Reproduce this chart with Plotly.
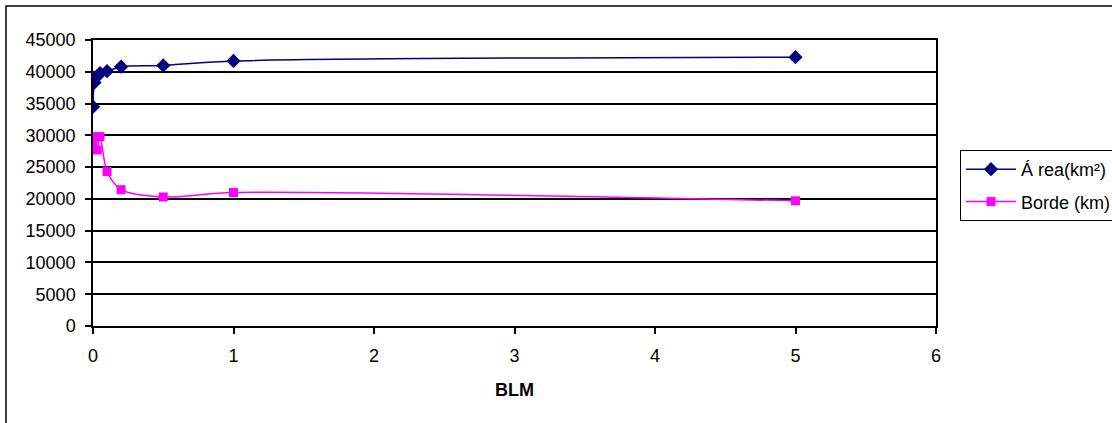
import plotly.graph_objects as go

# BLM values (x)
blm = [0, 0.01, 0.03, 0.05, 0.1, 0.2, 0.5, 1, 5]
# Area (km²)
area = [34500, 38300, 39300, 39800, 40100, 40800, 41000, 41700, 42300]
# Border (km)
borde = [28400, 29800, 27700, 29800, 24300, 21450, 20300, 21000, 19700]

y_ticks = [0, 5000, 10000, 15000, 20000, 25000, 30000, 35000, 40000, 45000]
x_ticks = [0, 1, 2, 3, 4, 5, 6]

FONT = "Arial, Liberation Sans, sans-serif"

fig = go.Figure()
fig.add_trace(go.Scatter(
    x=blm, y=area, name="Á rea(km²)", mode="lines+markers",
    line=dict(color="#000080", width=1.5, shape="spline", smoothing=0.8),
    marker=dict(symbol="diamond", size=11, color="#000080"),
    legendgroup="a",
))
fig.add_trace(go.Scatter(
    x=blm, y=borde, name="Borde (km)", mode="lines+markers",
    line=dict(color="#FF00FF", width=1.5, shape="spline", smoothing=0.8),
    marker=dict(symbol="square", size=9, color="#FF00FF"),
    legendgroup="b",
))

W, H = 1112, 423
L, T = 93, 40
R = W - 936
B = H - 326
pw = W - L - R
ph = H - T - B


def px_x(px):
    return (px - L) / pw


def px_y(py):
    return (H - B - py) / ph


fig.update_layout(
    width=W, height=H,
    margin=dict(l=L, r=R, t=T, b=B, autoexpand=False),
    paper_bgcolor="white", plot_bgcolor="white",
    font=dict(family=FONT, size=18, color="black"),
    showlegend=True,
    legend=dict(
        x=px_x(960), y=px_y(150),
        xanchor="left", yanchor="top",
        bgcolor="white", bordercolor="black", borderwidth=1,
        font=dict(family=FONT, size=18, color="black"),
        tracegroupgap=6, itemwidth=50,
    ),
    xaxis=dict(
        range=[0, 6], tickvals=x_ticks, ticktext=[str(v) for v in x_ticks],
        showgrid=False, zeroline=False,
        showline=True, linecolor="black", linewidth=1.5, mirror=True,
        ticks="outside", ticklen=6, tickcolor="black", tickwidth=1.5,
        ticklabelstandoff=7,
        title=dict(text="<b>BLM</b>", font=dict(family=FONT, size=18, color="black"), standoff=18),
    ),
    yaxis=dict(
        range=[0, 45000], tickvals=y_ticks, tickformat="d",
        showgrid=True, gridcolor="black", gridwidth=1.5,
        zeroline=False,
        showline=True, linecolor="black", linewidth=1.5, mirror=True,
        ticks="outside", ticklen=6, tickcolor="black", tickwidth=1.5,
        ticklabelstandoff=6,
    ),
    shapes=[dict(
        type="rect", xref="paper", yref="paper",
        x0=px_x(6), x1=px_x(1140),
        y0=px_y(450), y1=px_y(6),
        line=dict(color="black", width=1.5), fillcolor="rgba(0,0,0,0)",
        layer="below",
    )],
)

fig.write_html(
    "out.html",
    config={"displayModeBar": False},
    post_script="document.body.style.margin='0';document.body.style.overflow='hidden';",
)
